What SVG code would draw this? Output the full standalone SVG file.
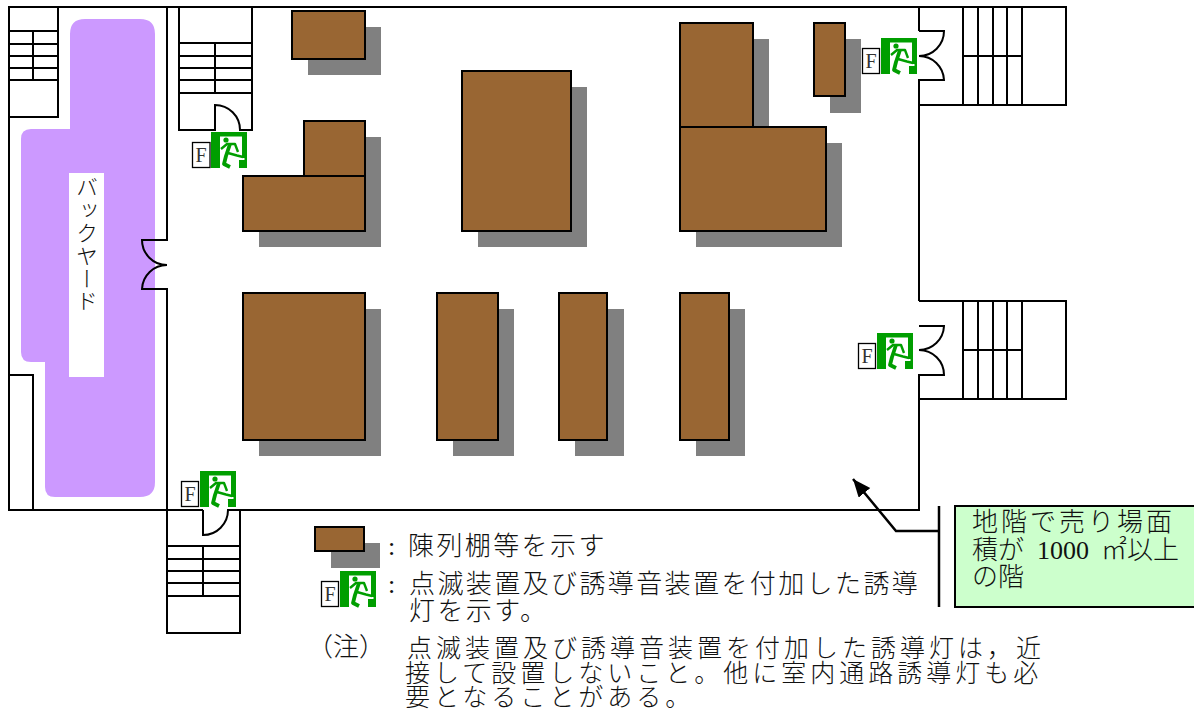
<svg xmlns="http://www.w3.org/2000/svg" width="1194" height="711" viewBox="0 0 1194 711">
<style>
.w{fill:none;stroke:#000;stroke-width:2}
.t{font-family:"Noto Sans CJK JP","Liberation Serif",serif;font-weight:300;font-size:26px;fill:#111}
.n{font-size:25px;letter-spacing:4px}
.c{font-family:"Liberation Serif",serif;font-size:26px;fill:#111}
.f{font-family:"Liberation Serif",serif;font-size:20px;fill:#333;text-anchor:middle}
.box{fill:#fff;stroke:#000;stroke-width:1.3}
.sh{fill:#808080}
.s{fill:#996633;stroke:#000;stroke-width:2}
.m{fill:none;stroke:#009e00;stroke-width:2.400;stroke-linejoin:round}
</style>
<defs>
<g id="sign">
<rect width="36" height="36" fill="#009e00"/>
<path d="M9 4.500H31V26H33.500V28H28V36H9Z" fill="#fff"/>
<circle cx="15" cy="8" r="2.600" fill="#009e00"/>
<path class="m" d="M10 17L16 12H24L27 20"/>
<path class="m" style="stroke-width:3.800" d="M19 12L15 24L13 32L19 35"/>
<path class="m" d="M17 21L26 23.500L32 25"/>
</g>
<marker id="ah" markerWidth="20" markerHeight="16" refX="18" refY="7.500" orient="auto" markerUnits="userSpaceOnUse"><path d="M0 0L18 7.500L0 15Z" fill="#000"/></marker>
</defs>
<g id="backyard">
<path d="M85 19H140Q155 19 155 34V482Q155 497 140 497H55Q45 497 45 487V362H31Q21 362 21 352V139Q21 129 31 129H70V34Q70 19 85 19Z" fill="#cc99ff"/>
<rect x="69" y="173" width="35" height="204" fill="#fff"/>
<text class="t" x="87" y="176" style="writing-mode:vertical-rl;font-size:22px;letter-spacing:0.800px">バックヤード</text>
</g>
<g id="walls">
<path class="w" d="M9 510V7H919V31M919 80V301M919 375V510H228M203 510H9"/>
<path class="w" d="M167 7V240H142A25 25 0 0 0 167 265A25 25 0 0 0 142 289H167V510"/>
<rect class="w" x="9" y="375" width="24" height="135"/>
</g>
<g id="stair-nw">
<path class="w" d="M9 117H58V7M9 31H58M9 44H58M9 56H58M9 68H58M9 80H58M33 31V80"/>
</g>
<g id="stair-n">
<path class="w" d="M179 7V130H215V105A25 25 0 0 1 240 130H252V7M179 43H252M179 56H252M179 68H252M179 80H252M179 93H252M215 43V93"/>
</g>
<g id="stair-ne">
<path class="w" d="M919 7H1066V105H919V80H944A25 25 0 0 0 919 56A25 25 0 0 0 944 31H919M963 7V105M978 7V105M993 7V105M1007 7V105M1022 7V105M963 56H1022"/>
</g>
<g id="stair-e">
<path class="w" d="M919 301H1066V399H919V375H944A25 25 0 0 0 919 350A25 25 0 0 0 944 326H919M963 301V399M978 301V399M993 301V399M1007 301V399M1022 301V399M963 350H1022"/>
</g>
<g id="stair-s">
<path class="w" d="M167 510V633H240V510H228A25 25 0 0 1 203 535V510M167 546H240M167 559H240M167 571H240M167 583H240M167 596H240M203 546V596"/>
</g>
<g id="shelf-1"><rect class="sh" x="308" y="27" width="73" height="48"/><rect class="s" x="292" y="11" width="73" height="48"/></g>
<g id="shelf-2"><path class="sh" d="M320 137H381V247H259V192H320Z"/><rect class="s" x="304" y="121" width="61" height="55"/><rect class="s" x="243" y="176" width="122" height="55"/></g>
<g id="shelf-3"><rect class="sh" x="478" y="87" width="109" height="160"/><rect class="s" x="462" y="71" width="109" height="160"/></g>
<g id="shelf-4"><path class="sh" d="M696 39H769V143H842V247H696Z"/><rect class="s" x="680" y="23" width="73" height="104"/><rect class="s" x="680" y="127" width="146" height="104"/></g>
<g id="shelf-5"><rect class="sh" x="830" y="39" width="31" height="74"/><rect class="s" x="814" y="23" width="31" height="73"/></g>
<g id="shelf-6"><rect class="sh" x="259" y="309" width="122" height="147"/><rect class="s" x="243" y="293" width="122" height="147"/></g>
<g id="shelf-7"><rect class="sh" x="453" y="309" width="61" height="147"/><rect class="s" x="437" y="293" width="61" height="147"/></g>
<g id="shelf-8"><rect class="sh" x="575" y="309" width="49" height="147"/><rect class="s" x="559" y="293" width="48" height="147"/></g>
<g id="shelf-9"><rect class="sh" x="696" y="309" width="49" height="147"/><rect class="s" x="680" y="293" width="49" height="147"/></g>
<g id="sign-n"><rect class="box" x="192.500" y="142.500" width="17.500" height="25"/><text class="f" x="201" y="162">F</text><use href="#sign" x="211" y="132"/></g>
<g id="sign-ne"><rect class="box" x="862.500" y="48.500" width="17" height="25"/><text class="f" x="871" y="68">F</text><use href="#sign" x="881" y="38"/></g>
<g id="sign-e"><rect class="box" x="858.500" y="343.500" width="17" height="25"/><text class="f" x="867" y="363">F</text><use href="#sign" x="877" y="333"/></g>
<g id="sign-s"><rect class="box" x="181.500" y="481.500" width="17" height="25"/><text class="f" x="190" y="501">F</text><use href="#sign" x="200" y="471"/></g>
<g id="legend">
<rect class="sh" x="331" y="543" width="49" height="25"/><rect class="s" x="315" y="527" width="49" height="24"/>
<rect class="box" x="321.500" y="581.500" width="17" height="25"/><text class="f" x="330" y="601">F</text><use href="#sign" x="340" y="571"/>
<text class="c" x="388" y="555">:</text>
<text class="c" x="388" y="593">:</text>
<text class="t" x="408" y="555" style="letter-spacing:2.400px">陳列棚等を示す</text>
<text class="t" x="409" y="593" style="letter-spacing:2.400px">点滅装置及び誘導音装置を付加した誘導</text>
<text class="t" x="409" y="620" style="letter-spacing:2.400px">灯を示す。</text>
</g>
<g id="note">
<text class="t" x="307" y="656" style="letter-spacing:0">（注）</text>
<text class="t n" x="407" y="657">点滅装置及び誘導音装置を付加した誘導灯は，近</text>
<text class="t n" x="405" y="682">接して設置しないこと。他に室内通路誘導灯も必</text>
<text class="t n" x="405" y="706">要となることがある。</text>
</g>
<g id="connectors">
<path class="w" style="stroke-width:2.500" d="M939 531H896L853 479" marker-end="url(#ah)"/>
<path class="w" style="stroke-width:2.500" d="M939 506V607"/>
</g>
<g id="callout">
<rect x="955" y="506" width="240" height="101" fill="#ccffcc" stroke="#000" stroke-width="2"/>
<text class="t" x="972" y="531" style="letter-spacing:3px">地階で売り場面</text>
<text class="t" x="972" y="559">積が</text>
<text class="c" x="1037" y="559">1000</text>
<text class="t" x="1101" y="559">㎡以上</text>
<text class="t" x="972" y="586">の階</text>
</g>
</svg>
